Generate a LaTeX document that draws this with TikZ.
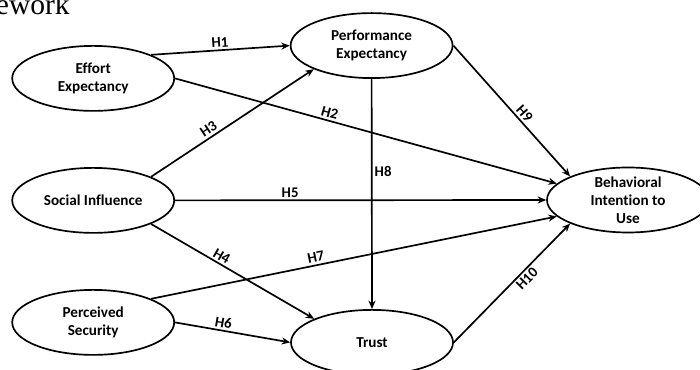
\documentclass[tikz,border=0pt]{standalone}
\usepackage{fontspec}
\setmainfont{Carlito}[Ligatures=NoCommon]
\newfontfamily\titlefont{Liberation Serif}
\usetikzlibrary{shapes.geometric,arrows.meta}
\tikzset{
  construct/.style={draw,ellipse,line width=1.2pt,minimum width=4.05cm,minimum height=1.625cm,inner sep=0pt},
  conname/.style={align=center,font=\fontsize{10.8}{12.8}\selectfont\bfseries},
  hyp/.style={font=\fontsize{10.5}{12}\selectfont\bfseries,inner sep=1.5pt},
  link/.style={->,>={Stealth[length=6pt,width=5pt]},line width=1.2pt}
}
\begin{document}
\begin{tikzpicture}
  \useasboundingbox (0,0) rectangle (17.5,9.25);
  \clip (0,0) rectangle (17.5,9.25);
  \node[font=\titlefont\fontsize{21}{24}\selectfont,anchor=base east,inner sep=0pt] (title) at (1.75,8.875) {ework};
  % constructs
  \node[construct,label={[conname]center:Effort\\Expectancy}] (ee) at (2.33,7.29) {};
  \node[construct,label={[conname]center:Performance\\Expectancy}] (pe) at (9.29,8.11) {};
  \node[construct,label={[conname]center:Social Influence}] (si) at (2.33,4.24) {};
  \node[construct,label={[conname]center:Perceived\\Security}] (ps) at (2.33,1.19) {};
  \node[construct,label={[conname]center:Trust}] (tr) at (9.3,0.69) {};
  \node[construct,label={[conname]center:Behavioral\\Intention to\\Use}] (bi) at (15.7,4.25) {};
  % hypotheses
  \draw[link] (ee.north east) -- node[hyp,sloped,above] {H1} (pe.west);
  \draw[link] (ee.east) -- node[hyp,sloped,above,pos=0.4] {H2} (bi.167);
  \draw[link] (si.north east) -- node[hyp,sloped,above,pos=0.38] {H3} (pe.south west);
  \draw[link] (si.south east) -- node[hyp,sloped,above,pos=0.41] {H4} (tr.north west);
  \draw[link] (si.east) -- node[hyp,above,pos=0.31] {H5} (bi.west);
  \draw[link] (ps.east) -- node[hyp,sloped,above,pos=0.41] {H6} (tr.west);
  \draw[link] (ps.north east) -- node[hyp,sloped,above,pos=0.41] {H7} (bi.193);
  \draw[link] (pe.south) -- node[hyp,right,pos=0.4] {H8} (tr.north);
  \draw[link] (pe.east) -- node[hyp,sloped,above,pos=0.56] {H9} (bi.north west);
  \draw[link] (tr.east) -- node[hyp,sloped,below,pos=0.58] {H10} (bi.south west);
\end{tikzpicture}
\end{document}
